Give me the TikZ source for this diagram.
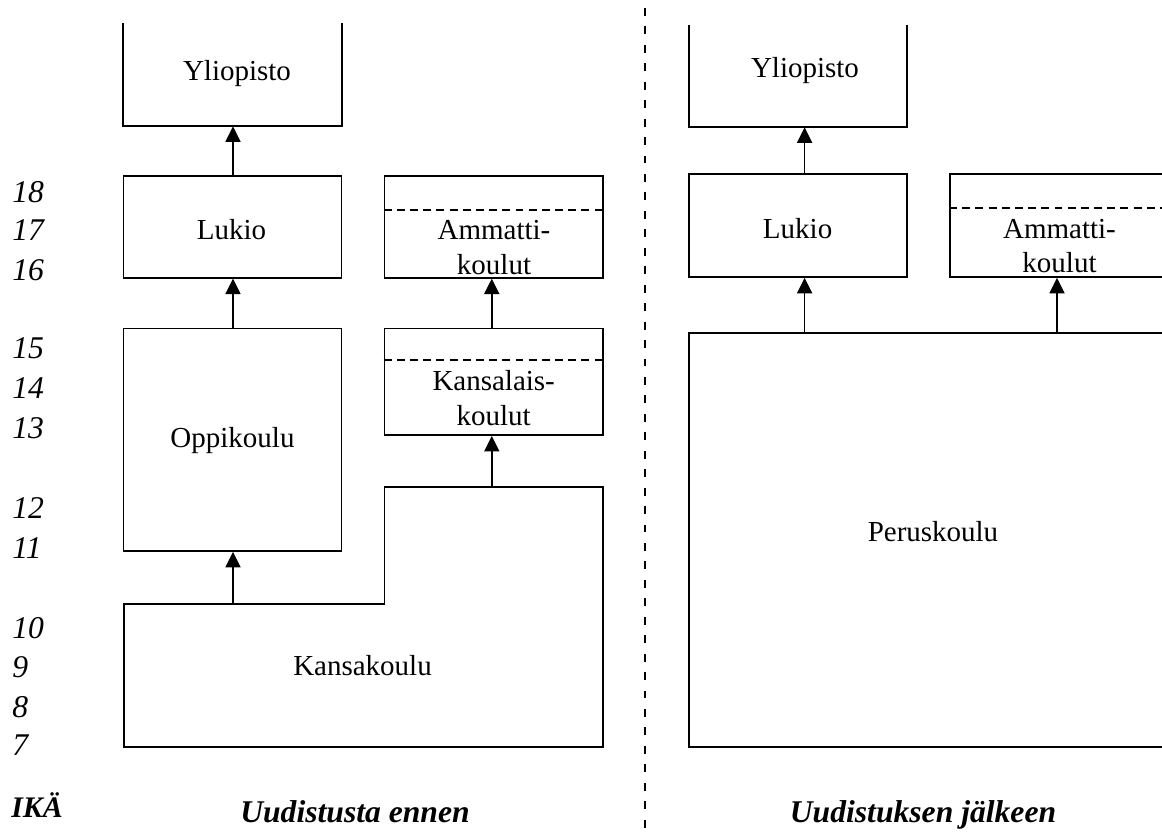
\documentclass[tikz,border=0pt]{standalone}
\usepackage{fontspec}
\setmainfont{Liberation Serif}
\usetikzlibrary{arrows.meta,fit}

\begin{document}
\begin{tikzpicture}[x=0.02cm,y=-0.02cm,
	laatikko/.style={draw,line width=1pt,inner sep=0pt},
	avoin/.style={inner sep=0pt},
	teksti/.style={font=\fontsize{16.5}{19.8}\selectfont,align=center,inner sep=0pt},
	ika/.style={font=\itshape\fontsize{18}{20}\selectfont,anchor=west,inner sep=0pt},
	otsikko/.style={font=\bfseries\itshape\fontsize{18}{20}\selectfont,anchor=base,inner sep=0pt},
	nuoli/.style={-{Triangle[length=0.31cm,width=0.3cm]},line width=1pt},
	katko/.style={line width=0.8pt,dash pattern=on 4.5pt off 3pt}]
	\useasboundingbox (0,0) rectangle (1162,832);
	\clip (0,0) rectangle (1162,832);

	% ika
	\foreach \ika/\y in {18/192,17/230,16/270,15/348,14/388,13/428,12/508,11/548,10/628,9/667,8/707,7/745}
		\node [ika] (ika\ika) at (12,\y) {\ika};
	\node [otsikko,anchor=base west,font=\bfseries\itshape\fontsize{17}{20}\selectfont] (ikaotsikko) at (11,817) {IKÄ};

	% uudistusta ennen
	\node [avoin,fit={(123.6,23) (341.4,126)}] (yoA) {};
	\draw [line width=1pt] (yoA.north west) -- (yoA.south west) -- (yoA.south east) -- (yoA.north east);
	\node [laatikko,fit={(123.6,176) (341.4,277.7)}] (luA) {};
	\node [laatikko,fit={(384.6,176) (602.7,277.7)}] (amA) {};
	\draw [katko] (amA.west |- 0,210) -- (amA.east |- 0,210);
	\node [laatikko,fit={(123.6,328.5) (341.4,551)}] (opA) {};
	\node [laatikko,fit={(384.6,328.5) (602.7,435)}] (kaA) {};
	\draw [katko] (kaA.west |- 0,360) -- (kaA.east |- 0,360);
	\draw [line width=1pt] (124,604) -- (384.6,604) -- (384.6,487) -- (602.7,487) -- (602.7,747) -- (124,747) -- cycle;
	\coordinate (kk1) at (233,604);
	\coordinate (kk2) at (491.8,487);

	\node [teksti] (yoAt) at (237,74) {Yliopisto};
	\node [teksti] (luAt) at (231.5,230) {Lukio};
	\node [teksti] (amAt) at (494,247.5) {Ammatti-\\koulut};
	\node [teksti] (opAt) at (232.5,441) {Oppikoulu};
	\node [teksti] (kaAt) at (493.7,398.3) {Kansalais-\\koulut};
	\node [teksti] (kkt) at (362.5,666) {Kansakoulu};

	\draw [nuoli] (luA.north -| kk1) -- (yoA.south -| kk1);
	\draw [nuoli] (opA.north -| kk1) -- (luA.south -| kk1);
	\draw [nuoli] (kk1) -- (opA.south -| kk1);
	\draw [nuoli] (kaA.north -| kk2) -- (amA.south -| kk2);
	\draw [nuoli] (kk2) -- (kaA.south -| kk2);

	% raja
	\draw [line width=1.4pt,dash pattern=on 4.5pt off 6pt] (645,8) -- (645,832);

	% uudistuksen jalkeen
	\node [avoin,fit={(689,25) (907,127)}] (yoB) {};
	\draw [line width=1pt] (yoB.north west) -- (yoB.south west) -- (yoB.south east) -- (yoB.north east);
	\node [laatikko,fit={(689,174) (907,277)}] (luB) {};
	\node [laatikko,fit={(950,174) (1168,277)}] (amB) {};
	\draw [katko] (amB.west |- 0,208) -- (amB.east |- 0,208);
	\node [laatikko,fit={(689,333) (1177,747)}] (pk) {};
	\coordinate (pk1) at (804.6,333);
	\coordinate (pk2) at (1057,333);

	\node [teksti] (yoBt) at (805,71) {Yliopisto};
	\node [teksti] (luBt) at (797.6,229) {Lukio};
	\node [teksti] (amBt) at (1059.5,246) {Ammatti-\\koulut};
	\node [teksti] (pkt) at (933,532) {Peruskoulu};

	\draw [nuoli] (pk1) -- (luB.south -| pk1);
	\draw [nuoli] (pk2) -- (amB.south -| pk2);
	\draw [nuoli] (luB.north -| pk1) -- (yoB.south -| pk1);

	\node [otsikko] (ennen) at (355,822) {Uudistusta ennen};
	\node [otsikko] (jalkeen) at (923,822) {Uudistuksen jälkeen};
\end{tikzpicture}
\end{document}
